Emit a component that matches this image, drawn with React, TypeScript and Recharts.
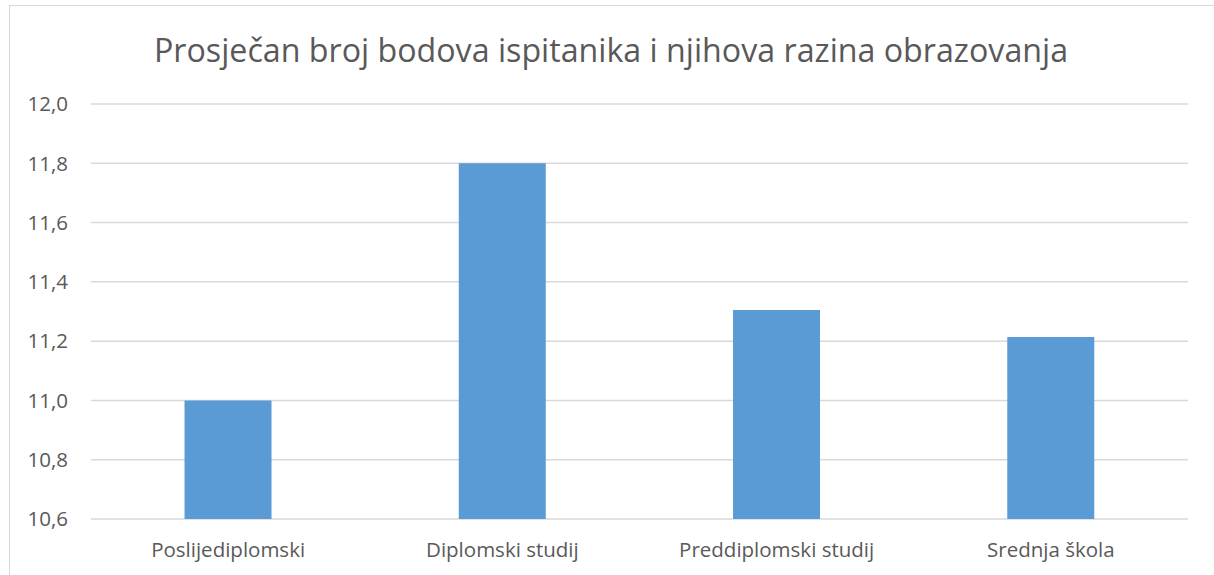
import React from "react";
import { BarChart, Bar, XAxis, YAxis, CartesianGrid } from "recharts";

const categories = ["Poslijediplomski", "Diplomski studij", "Preddiplomski studij", "Srednja škola"];
const values = [11.0, 11.8, 11.305, 11.214];
const yTicks = [10.6, 10.8, 11.0, 11.2, 11.4, 11.6, 11.8, 12.0];
const title = "Prosječan broj bodova ispitanika i njihova razina obrazovanja";

const data = categories.map((name, i) => ({ name, value: values[i] }));

const FONT = "'Open Sans', 'DejaVu Sans', sans-serif";
const TEXT = "#595959";

export default function App() {
  return (
    <div style={{ position: "absolute", left: 0, top: 0, width: 1214, height: 575, background: "#fff", overflow: "hidden" }}>
      <div style={{ position: "absolute", left: 9, top: 5, width: 1214, height: 600, borderLeft: "1.5px solid #d9d9d9", borderTop: "1.5px solid #d9d9d9", boxSizing: "border-box" }} />
      <svg width={1214} height={80} style={{ position: "absolute", left: 0, top: 0 }}>
        <text x={611} y={62} textAnchor="middle" fontFamily={FONT} fontSize={32.2} fill={TEXT}>
          {title}
        </text>
      </svg>
      <div style={{ position: "absolute", left: 0, top: 0 }}>
        <BarChart
          width={1214}
          height={575}
          data={data}
          margin={{ top: 104, right: 26, bottom: 0, left: 0 }}
          barCategoryGap="34.1%"
        >
          <CartesianGrid horizontal={true} vertical={false} stroke="#d9d9d9" strokeWidth={1.5} />
          <XAxis
            dataKey="name"
            axisLine={false}
            tickLine={false}
            tickSize={0}
            tickMargin={23}
            height={56}
            tick={{ fill: TEXT, fontSize: 20.5, fontFamily: FONT }}
            interval={0}
          />
          <YAxis
            type="number"
            domain={[10.6, 12.0]}
            ticks={yTicks}
            allowDataOverflow={true}
            axisLine={false}
            tickLine={false}
            tickSize={0}
            tickMargin={23}
            width={91}
            tick={{ fill: TEXT, fontSize: 20.5, fontFamily: FONT }}
            tickFormatter={(v: number) => v.toFixed(1).replace(".", ",")}
          />
          <Bar dataKey="value" fill="#5B9BD5" isAnimationActive={false} />
        </BarChart>
      </div>
    </div>
  );
}
